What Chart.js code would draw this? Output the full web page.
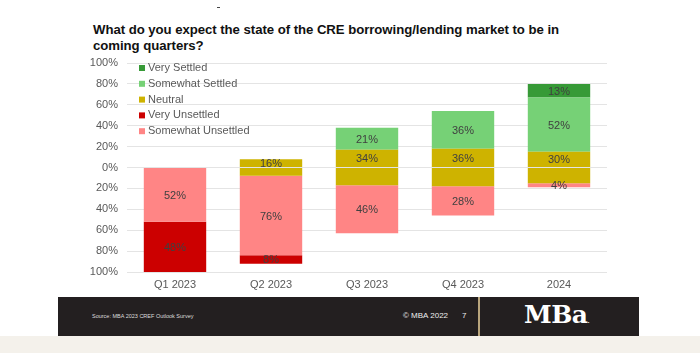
<!DOCTYPE html>
<html>
<head>
<meta charset="utf-8">
<script src="https://cdn.jsdelivr.net/npm/chart.js@4/dist/chart.umd.min.js"></script>
<style>
  html, body { margin: 0; padding: 0; background: #fff; }
  body { width: 700px; height: 353px; position: relative; overflow: hidden; font-family: "Liberation Sans", Arial, sans-serif; }
  #wrap { position: absolute; left: 0; top: 0; width: 700px; height: 300px; }
  #title { position: absolute; left: 93px; top: 22px; font-size: 13.2px; font-weight: bold; color: #111; line-height: 16px; white-space: nowrap; letter-spacing: -0.05px; }
  #dash { position: absolute; left: 217px; top: 7px; width: 3px; height: 1px; background: #444; }
  #footer { position: absolute; left: 58px; top: 297px; width: 581px; height: 39px; background: #231f20; }
  #sep { position: absolute; left: 420px; top: 0; width: 2px; height: 39px; background: #b9a57c; }
  #source { position: absolute; left: 34px; top: 16px; font-size: 5.5px; color: #ddd; }
  #copy { position: absolute; left: 345px; top: 14px; font-size: 8px; color: #eee; }
  #page { position: absolute; left: 404px; top: 14px; font-size: 8px; color: #eee; }
  #logo { position: absolute; left: 466px; top: 3px; font-family: "DejaVu Serif", "Liberation Serif", serif; font-weight: bold; font-size: 25px; color: #fff; letter-spacing: -0.5px; }
  #strip { position: absolute; left: 0; top: 336px; width: 700px; height: 17px; background: #f4f1eb; }
</style>
</head>
<body>
<div id="dash"></div>
<div id="title">What do you expect the state of the CRE borrowing/lending market to be in<br>coming quarters?</div>
<div id="wrap"><canvas id="canvas_cre"></canvas></div>
<div id="footer">
  <div id="source">Source: MBA 2023 CREF Outlook Survey</div>
  <div id="copy">© MBA 2022</div>
  <div id="page">7</div>
  <div id="sep"></div>
  <div id="logo">MBa<span style="font-size:6px;letter-spacing:0">.</span></div>
</div>
<div id="strip"></div>
<script>
const categories = ['Q1 2023', 'Q2 2023', 'Q3 2023', 'Q4 2023', '2024'];
const verySettled = [0, 0, 0, 0, 13];
const somewhatSettled = [0, 0, 21, 36, 52];
const neutral = [0, 16, 34, 36, 30];
const somewhatUnsettled = [52, 76, 46, 28, 4];
const veryUnsettled = [48, 8, 0, 0, 0];
const yTicks = [-100, -80, -60, -40, -20, 0, 20, 40, 60, 80, 100];

const COLORS = {
    verySettled: '#379a37',
    somewhatSettled: '#76d176',
    neutral: '#ceb300',
    veryUnsettled: '#cc0000',
    somewhatUnsettled: '#ff8585'
};

// neutral is centred on zero: half above, half below; only the upper half carries the label
const datasets = [
    { label: 'Neutral', data: neutral.map(v => v / 2), shown: neutral, color: COLORS.neutral },
    { label: 'Somewhat Settled', data: somewhatSettled, shown: somewhatSettled, color: COLORS.somewhatSettled },
    { label: 'Very Settled', data: verySettled, shown: verySettled, color: COLORS.verySettled },
    { label: 'Neutral (below)', data: neutral.map(v => -v / 2), shown: null, color: COLORS.neutral, hideLegend: true },
    { label: 'Somewhat Unsettled', data: somewhatUnsettled.map(v => -v), shown: somewhatUnsettled, color: COLORS.somewhatUnsettled },
    { label: 'Very Unsettled', data: veryUnsettled.map(v => -v), shown: veryUnsettled, color: COLORS.veryUnsettled }
].map(d => ({
    label: d.label,
    data: d.data,
    shown: d.shown,
    hideLegend: !!d.hideLegend,
    backgroundColor: d.color,
    borderWidth: 0,
    categoryPercentage: 1,
    barPercentage: 0.65
}));

const legendOrder = ['Very Settled', 'Somewhat Settled', 'Neutral', 'Very Unsettled', 'Somewhat Unsettled'];

// value labels in the middle of each segment
const barLabels = {
    id: 'barLabels',
    afterDatasetsDraw(chart) {
        const ctx = chart.ctx;
        ctx.save();
        ctx.font = '11px "Liberation Sans", Arial, sans-serif';
        ctx.fillStyle = '#404040';
        ctx.textAlign = 'center';
        ctx.textBaseline = 'middle';
        chart.data.datasets.forEach((ds, i) => {
            if (!ds.shown) return;
            chart.getDatasetMeta(i).data.forEach((bar, j) => {
                const v = ds.shown[j];
                if (!v) return;
                ctx.fillText(v + '%', bar.x, (bar.y + bar.base) / 2 + 1);
            });
        });
        ctx.restore();
    }
};

// legend drawn inside the plot, top-left
const innerLegend = {
    id: 'innerLegend',
    afterDraw(chart) {
        const ctx = chart.ctx;
        const left = chart.chartArea.left + 12;
        let y = chart.chartArea.top + 5;
        ctx.save();
        ctx.font = '11px "Liberation Sans", Arial, sans-serif';
        ctx.textBaseline = 'middle';
        legendOrder.forEach(name => {
            const ds = chart.data.datasets.find(d => d.label === name && !d.hideLegend);
            ctx.fillStyle = ds.backgroundColor;
            ctx.fillRect(left, y - 3, 6, 6);
            ctx.fillStyle = '#595959';
            ctx.fillText(name, left + 9, y);
            y += 15.8;
        });
        ctx.restore();
    }
};

const ctx = document.getElementById('canvas_cre').getContext('2d');
const chart = new Chart(ctx, {
    type: 'bar',
    data: {
        labels: categories,
        datasets: datasets
    },
    options: {
        responsive: true,
        maintainAspectRatio: false,
        animation: false,
        layout: { padding: { left: 60, right: 93, top: 63, bottom: 0 } },
        plugins: {
            legend: { display: false },
            tooltip: { enabled: false }
        },
        scales: {
            x: {
                stacked: true,
                grid: { display: false, drawTicks: false },
                border: { display: false },
                ticks: { color: '#595959', padding: 6, font: { size: 11, family: '"Liberation Sans", Arial, sans-serif' } },
                afterFit: scale => { scale.height = 28; }
            },
            y: {
                stacked: true,
                min: -100,
                max: 100,
                afterBuildTicks: scale => { scale.ticks = yTicks.map(v => ({ value: v })); },
                grid: { color: '#e4e4e4', drawTicks: false },
                border: { display: false },
                ticks: {
                    color: '#595959',
                    padding: 9,
                    font: { size: 11, family: '"Liberation Sans", Arial, sans-serif' },
                    callback: v => Math.abs(v) + '%'
                },
                afterFit: scale => { scale.width = 67; }
            }
        }
    },
    plugins: [barLabels, innerLegend]
});
</script>
</body>
</html>
